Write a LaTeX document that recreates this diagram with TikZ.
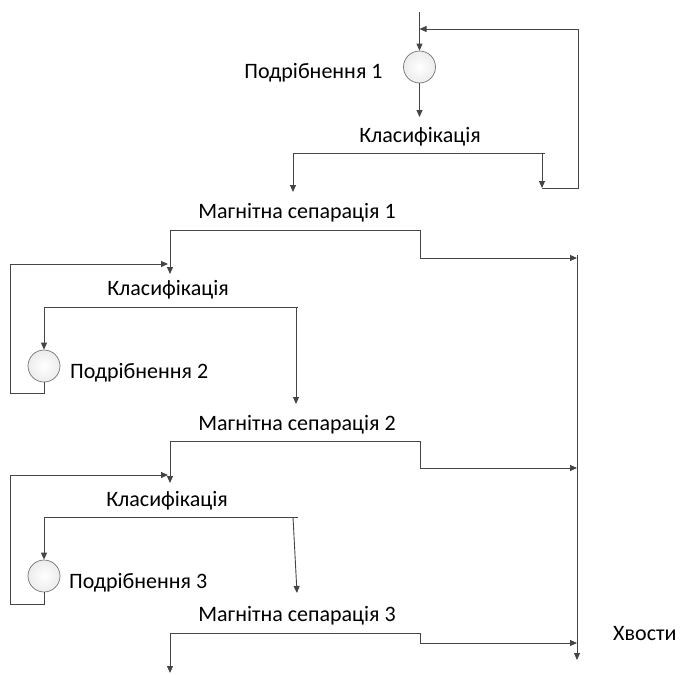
\documentclass[tikz,border=0pt]{standalone}
\usepackage{fontspec}
\setmainfont{Carlito}
\usetikzlibrary{arrows.meta}
\definecolor{linec}{HTML}{454545}
\begin{document}
\begin{tikzpicture}[x=1pt,y=-1pt,
  flow/.style={draw=linec, line width=0.9pt},
  arr/.style={flow, -{Triangle[length=7pt,width=6pt]}},
  mill/.style={circle, draw=gray!90!black, line width=0.7pt, inner sep=0pt, minimum size=32pt, inner color=white, outer color=gray!15},
  lbl/.style={font=\fontsize{22}{26}\selectfont, text=black, inner sep=0pt, anchor=center}]
\useasboundingbox (0,0) rectangle (681,675);
% mills
\node[mill] (m1) at (419.5,67) {};
\node[mill] (m2) at (44,366) {};
\node[mill] (m3) at (44,576) {};
% labels
\node[lbl] (t1) at (313.5,73) {Подрібнення 1};
\node[lbl] (c1) at (420,137) {Класифікація};
\node[lbl] (s1) at (297,213) {Магнітна сепарація 1};
\node[lbl] (c2) at (168,290) {Класифікація};
\node[lbl, anchor=west] (t2) at (70,373) {Подрібнення 2};
\node[lbl] (s2) at (297,425) {Магнітна сепарація 2};
\node[lbl] (c3) at (167,501) {Класифікація};
\node[lbl, anchor=west] (t3) at (69,583) {Подрібнення 3};
\node[lbl] (s3) at (297,616) {Магнітна сепарація 3};
\node[lbl, anchor=west] (tails) at (613,634) {Хвости};
% coordinates
\coordinate (feed) at (419.5,12);
\coordinate (fj) at (419.5,29);
\coordinate (c1in) at (419.5,117);
\coordinate (c1L) at (293,153);
\coordinate (c1R) at (545,153);
\coordinate (c1Ra) at (542,153);
\coordinate (c1Out) at (293,192);
\coordinate (rb) at (542,188);
\coordinate (rbR) at (578,188);
\coordinate (rtR) at (578,29);
\coordinate (s1L) at (170,230);
\coordinate (s1R) at (420,230);
\coordinate (s1Out) at (170,274);
\coordinate (s1D) at (420,258);
\coordinate (s1T) at (577,258);
\coordinate (colTop) at (577,255);
\coordinate (colBot) at (577,660);
\coordinate (l2b) at (44,393);
\coordinate (l2bl) at (10,393);
\coordinate (l2tl) at (10,264);
\coordinate (l2t) at (168,264);
\coordinate (c2L) at (44,307);
\coordinate (c2R) at (298,307);
\coordinate (c2Ra) at (296,307);
\coordinate (c2Out) at (296,404);
\coordinate (s2L) at (170,441);
\coordinate (s2R) at (420,441);
\coordinate (s2Out) at (170,483);
\coordinate (s2D) at (420,468);
\coordinate (s2T) at (577,468);
\coordinate (l3b) at (44,604);
\coordinate (l3bl) at (10,604);
\coordinate (l3tl) at (10,475);
\coordinate (l3t) at (168,475);
\coordinate (c3L) at (44,517);
\coordinate (c3R) at (298,517);
\coordinate (c3Ra) at (293,517);
\coordinate (c3Out) at (297,593);
\coordinate (s3L) at (170,633);
\coordinate (s3R) at (420,633);
\coordinate (s3Out) at (170,673);
\coordinate (s3D) at (420,643);
\coordinate (s3T) at (577,643);
% stage 1
\draw[arr] (feed) -- (m1.north);
\draw[arr] (m1.south) -- (c1in);
\draw[flow] (c1L) -- (c1R);
\draw[arr] (c1L) -- (c1Out);
\draw[arr] (c1Ra) -- (rb);
\draw[arr] (rb) -- (rbR) -- (rtR) -- (fj);
\draw[flow] (s1L) -- (s1R);
\draw[arr] (s1L) -- (s1Out);
\draw[arr] (s1R) -- (s1D) -- (s1T);
\draw[arr] (colTop) -- (colBot);
% stage 2
\draw[arr] (m2.south) -- (l2b) -- (l2bl) -- (l2tl) -- (l2t);
\draw[flow] (c2L) -- (c2R);
\draw[arr] (c2L) -- (m2.north);
\draw[arr] (c2Ra) -- (c2Out);
\draw[flow] (s2L) -- (s2R);
\draw[arr] (s2L) -- (s2Out);
\draw[arr] (s2R) -- (s2D) -- (s2T);
% stage 3
\draw[arr] (m3.south) -- (l3b) -- (l3bl) -- (l3tl) -- (l3t);
\draw[flow] (c3L) -- (c3R);
\draw[arr] (c3L) -- (m3.north);
\draw[arr] (c3Ra) -- (c3Out);
\draw[flow] (s3L) -- (s3R);
\draw[arr] (s3L) -- (s3Out);
\draw[arr] (s3R) -- (s3D) -- (s3T);
\end{tikzpicture}
\end{document}
